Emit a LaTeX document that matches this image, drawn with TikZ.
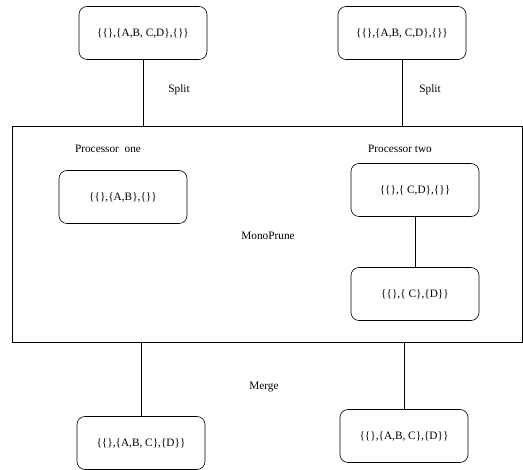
\documentclass[tikz,border=0pt]{standalone}
\usepackage{fontspec}
\setmainfont{Liberation Serif}
\begin{document}
\begin{tikzpicture}[x=1pt, y=-1pt, line width=0.6pt]
    % Define styles
    \tikzset{
        setbox/.style={draw, rounded corners=8pt, minimum width=128pt, minimum height=53pt, font=\fontsize{11.3}{13}\selectfont},
        tag/.style={font=\fontsize{11.3}{13}\selectfont}
    }

    % Fix picture size
    \useasboundingbox (0,0) rectangle (523,470);

    % Processing area
    \node[draw, minimum width=510pt, minimum height=216pt, inner sep=0pt] (mono) at (267,234) {};
    \node[tag] (monoLabel) at (268,236) {MonoPrune};

    % Input sets
    \node[setbox] (inOne) at (143,33) {\{\{\},\{A,B, C,D\},\{\}\}};
    \node[setbox] (inTwo) at (402,33) {\{\{\},\{A,B, C,D\},\{\}\}};
    \draw (inOne) -- (inOne |- mono.north);
    \draw (inTwo) -- (inTwo |- mono.north);
    \node[tag] (splitOne) at (179,90) {Split};
    \node[tag] (splitTwo) at (430,90) {Split};

    % Processor one
    \node[tag] (procOne) at (108,149) {Processor\ \ one};
    \node[setbox] (ab) at (123,197) {\{\{\},\{A,B\},\{\}\}};

    % Processor two
    \node[tag] (procTwo) at (400,149) {Processor two};
    \node[setbox] (cd) at (415,190) {\{\{\},\{ C,D\},\{\}\}};
    \node[setbox] (cAndD) at (415,294) {\{\{\},\{ C\},\{D\}\}};
    \draw (cd) -- (cAndD);

    % Merged sets
    \node[setbox] (outOne) at (141,443) {\{\{\},\{A,B, C\},\{D\}\}};
    \node[setbox] (outTwo) at (404,436) {\{\{\},\{A,B, C\},\{D\}\}};
    \draw (outOne) -- (outOne |- mono.south);
    \draw (outTwo) -- (outTwo |- mono.south);
    \node[tag] (merge) at (264,387) {Merge};

\end{tikzpicture}
\end{document}
